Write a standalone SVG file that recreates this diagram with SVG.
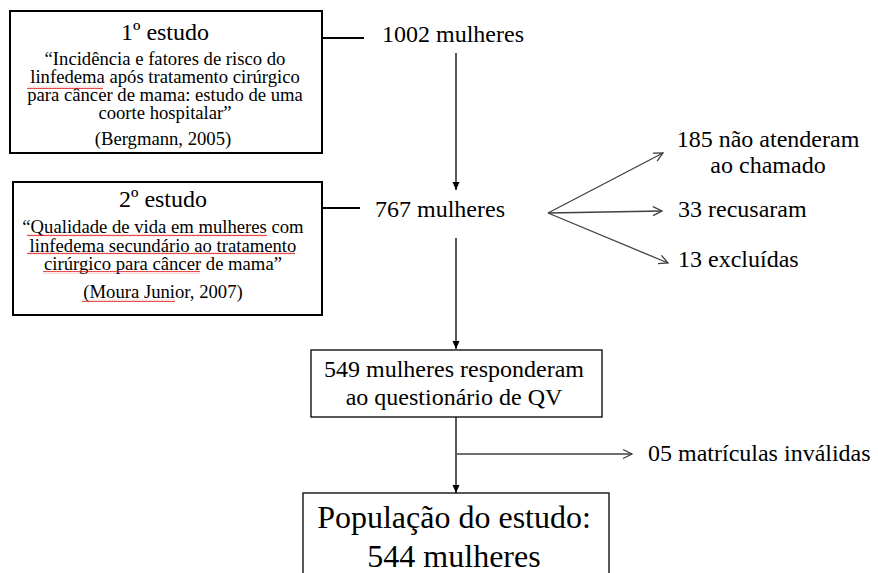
<svg xmlns="http://www.w3.org/2000/svg" width="878" height="573" viewBox="0 0 878 573">
<style>
text{font-family:"Liberation Serif","Times New Roman",serif;fill:#000}
.t24{font-size:24px}
.t32{font-size:32px}
.s{font-size:18.67px}
.box{fill:#fff;stroke:#000;stroke-width:2}
.box1{fill:#fff;stroke:#000;stroke-width:1.3}
.ln{stroke:#000;stroke-width:1.3;fill:none}
.gl{stroke:#404040;stroke-width:1.3;fill:none}
.thick{stroke:#000;stroke-width:2;fill:none}
.sq{fill:url(#sq)}
</style>
<defs>
<marker id="fa" markerUnits="userSpaceOnUse" markerWidth="10" markerHeight="10" refX="8" refY="4" orient="auto">
<path d="M0,0.5 L8,4 L0,7.5 Z" fill="#000"/>
</marker>
<marker id="oa" markerUnits="userSpaceOnUse" markerWidth="14" markerHeight="14" refX="10" refY="6" orient="auto">
<path d="M1,1.5 L10,6 L1,10.5" fill="none" stroke="#404040" stroke-width="1.3"/>
</marker>
<pattern id="sq" width="4" height="3" patternUnits="userSpaceOnUse">
<path d="M0,2.2 L1,0.8 L2,2.2 L3,0.8 L4,2.2" fill="none" stroke="#e02020" stroke-width="0.8"/>
</pattern>
</defs>

<g id="connectors">
<line class="thick" x1="322" y1="38" x2="364" y2="38"/>
<line class="thick" x1="322" y1="208" x2="360" y2="208"/>
<line class="ln" x1="456" y1="53" x2="456" y2="190" marker-end="url(#fa)"/>
<line class="ln" x1="456" y1="238" x2="456" y2="349" marker-end="url(#fa)"/>
<line class="ln" x1="456" y1="417" x2="456" y2="493" marker-end="url(#fa)"/>
<line class="gl" x1="548" y1="213" x2="663" y2="153" marker-end="url(#oa)"/>
<line class="gl" x1="548" y1="213" x2="662" y2="211" marker-end="url(#oa)"/>
<line class="gl" x1="548" y1="213" x2="668" y2="263" marker-end="url(#oa)"/>
<line class="gl" x1="457" y1="454" x2="632" y2="454" marker-end="url(#oa)"/>
</g>

<g id="estudo1">
<rect class="box" x="10" y="11" width="312" height="142"/>
<text class="t24" x="165" y="40" text-anchor="middle">1º estudo</text>
<text class="s" text-anchor="middle"><tspan x="165" y="65">“Incidência e fatores de risco do</tspan><tspan x="165" y="83">linfedema após tratamento cirúrgico</tspan><tspan x="165" y="101">para câncer de mama: estudo de uma</tspan><tspan x="165" y="119">coorte hospitalar”</tspan></text>
<text class="s" x="163" y="145" text-anchor="middle">(Bergmann, 2005)</text>
<rect class="sq" x="27" y="86" width="76" height="3"/>
</g>

<g id="estudo2">
<rect class="box" x="13" y="182" width="309" height="133"/>
<text class="t24" x="163" y="207" text-anchor="middle">2º estudo</text>
<text class="s" text-anchor="middle"><tspan x="163" y="233">“Qualidade de vida em mulheres com</tspan><tspan x="163" y="252">linfedema secundário ao tratamento</tspan><tspan x="163" y="270">cirúrgico para câncer de mama”</tspan></text>
<text class="s" x="163" y="298" text-anchor="middle">(Moura Junior, 2007)</text>
<rect class="sq" x="27" y="234" width="240" height="3"/>
<rect class="sq" x="27" y="252" width="268" height="3"/>
<rect class="sq" x="43" y="271" width="157" height="3"/>
<rect class="sq" x="82" y="299" width="93" height="3"/>
</g>

<g id="n1002">
<text class="t24" x="382" y="42">1002 mulheres</text>
</g>

<g id="n767">
<text class="t24" x="375" y="217">767 mulheres</text>
</g>

<g id="n185">
<text class="t24" text-anchor="middle"><tspan x="768" y="147">185 não atenderam</tspan><tspan x="768" y="173">ao chamado</tspan></text>
</g>

<g id="n33">
<text class="t24" x="678" y="217">33 recusaram</text>
</g>

<g id="n13">
<text class="t24" x="678" y="267">13 excluídas</text>
</g>

<g id="n549">
<rect class="box1" x="311" y="350" width="291" height="67"/>
<text class="t24" text-anchor="middle"><tspan x="454" y="377">549 mulheres responderam</tspan><tspan x="454" y="405">ao questionário de QV</tspan></text>
</g>

<g id="n05">
<text class="t24" x="648" y="461">05 matrículas inválidas</text>
</g>

<g id="n544">
<rect class="box1" x="303" y="493" width="306" height="90"/>
<text class="t32" text-anchor="middle"><tspan x="454" y="528">População do estudo:</tspan><tspan x="454" y="567">544 mulheres</tspan></text>
</g>
</svg>
